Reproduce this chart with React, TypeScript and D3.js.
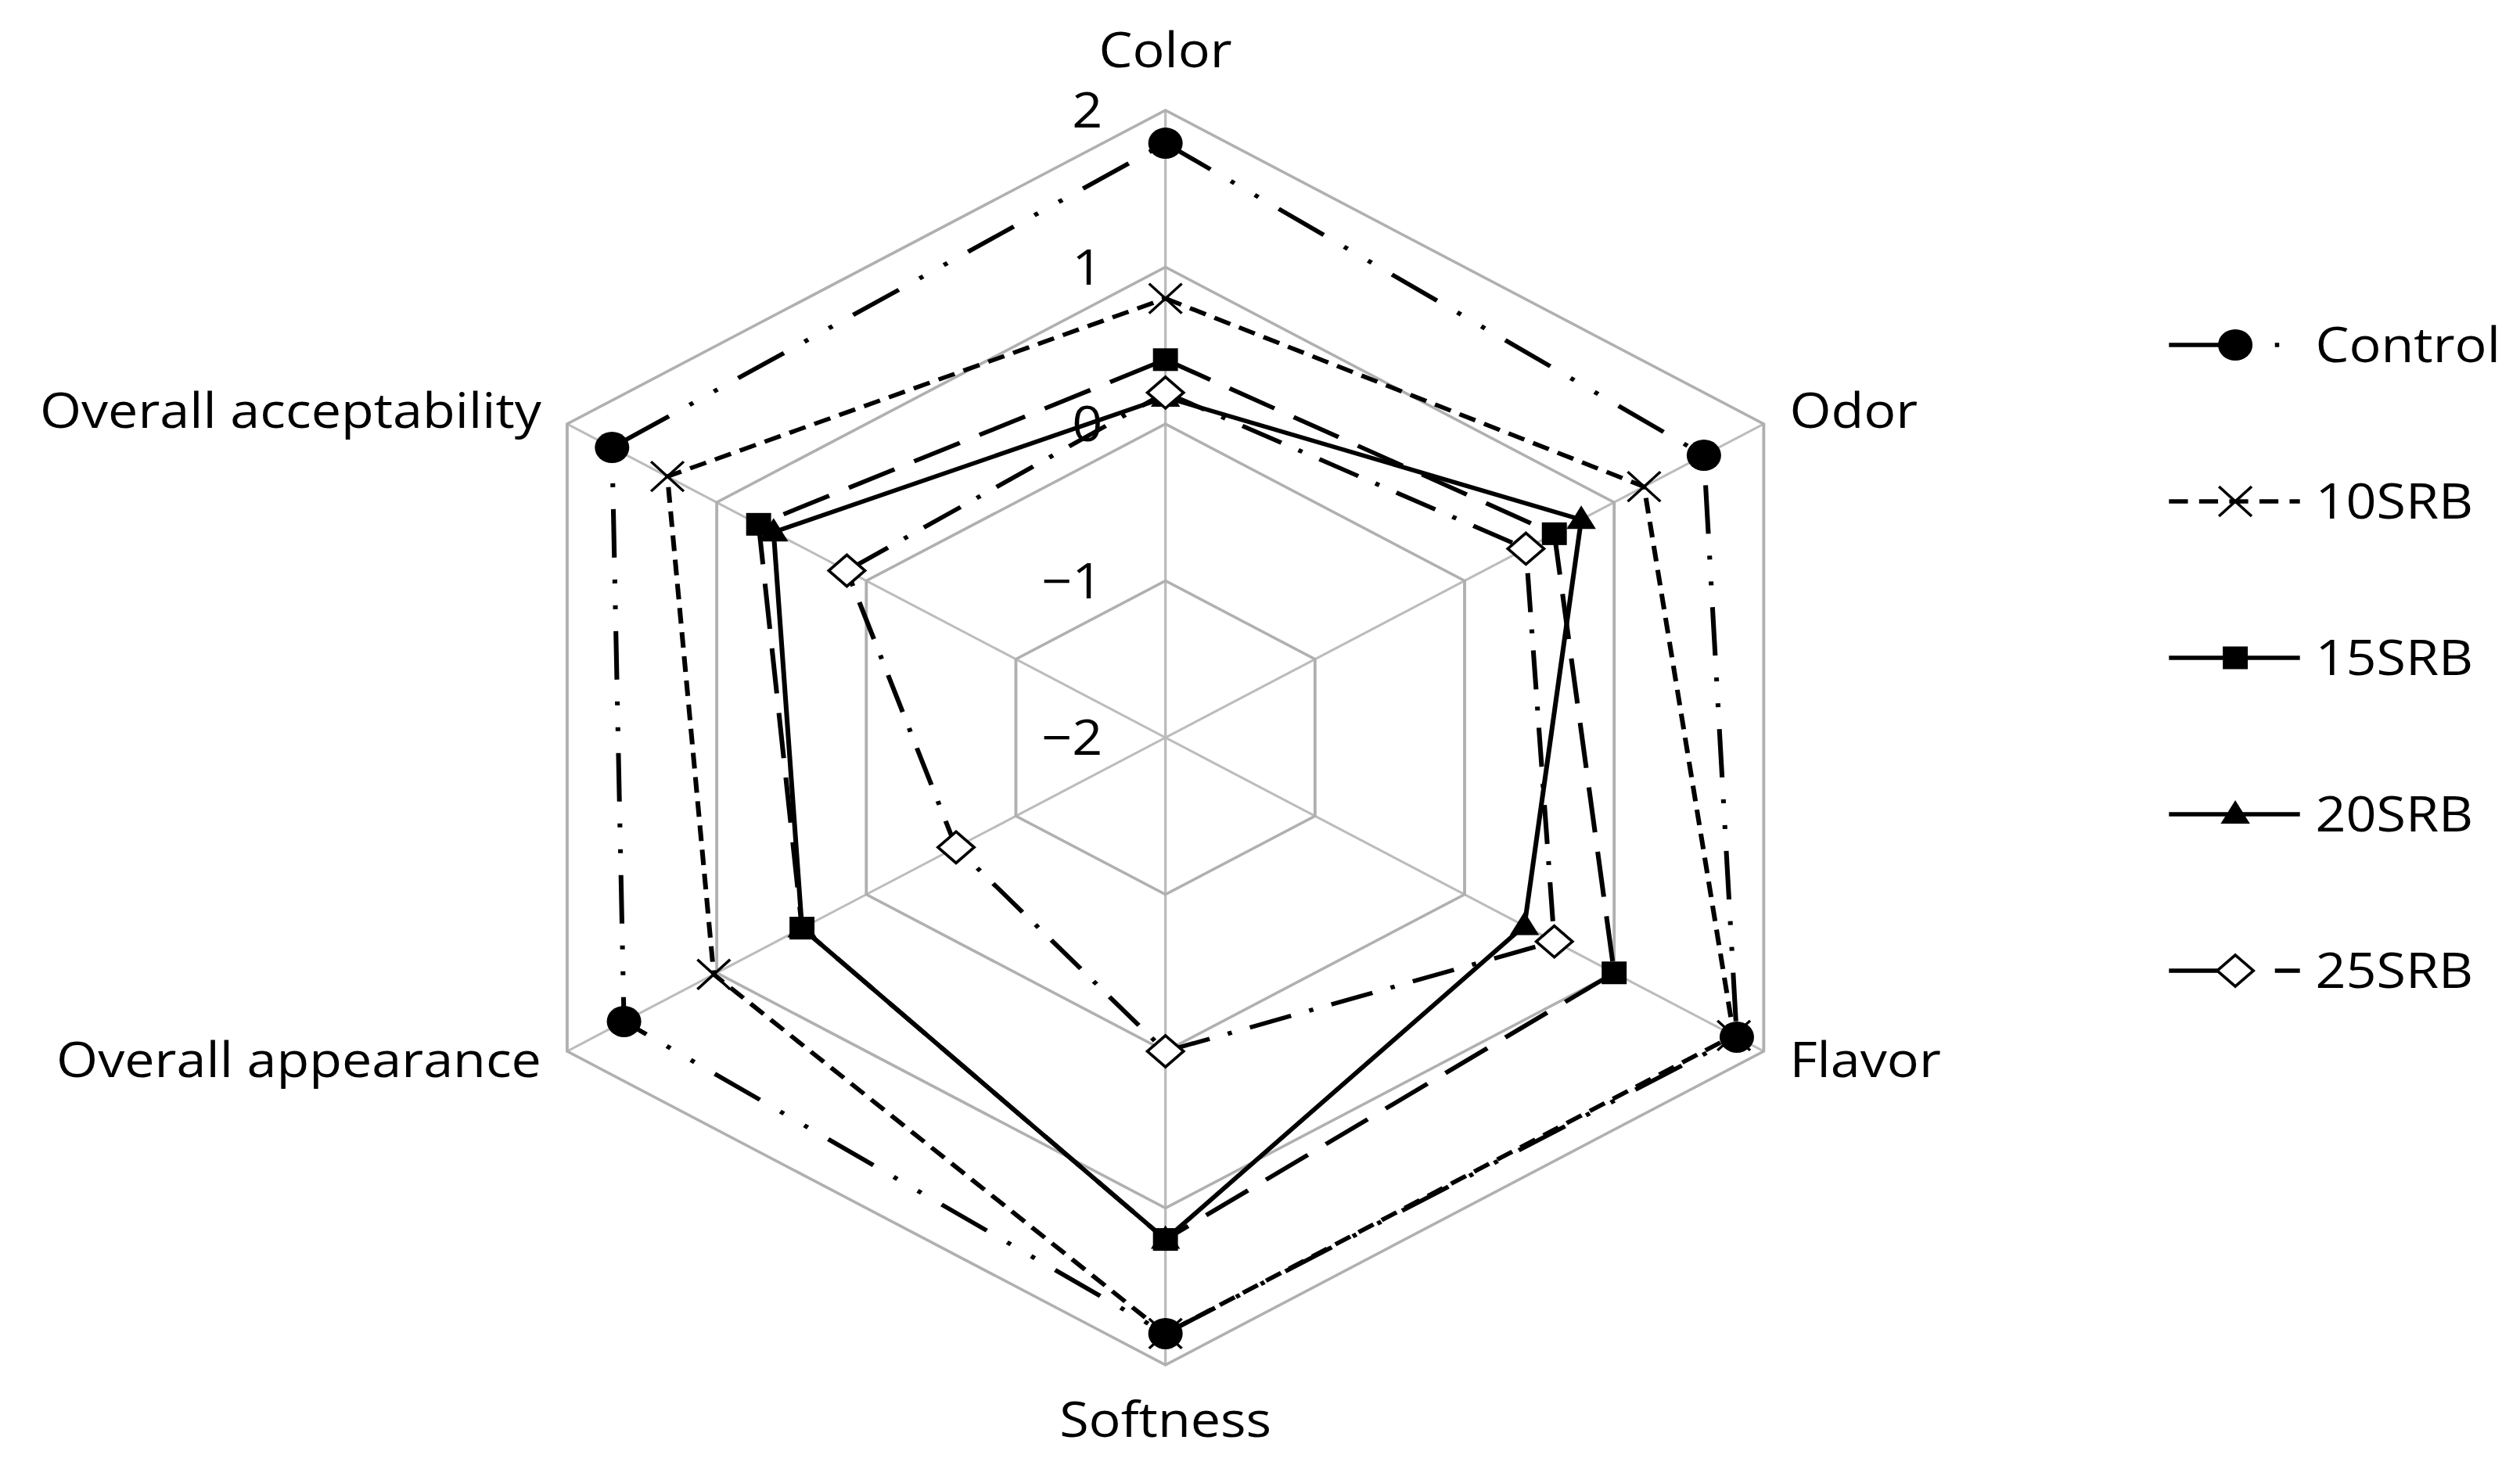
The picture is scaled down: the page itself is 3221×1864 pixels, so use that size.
import React from "react";
import * as d3 from "d3";

const categories = ["Color", "Odor", "Flavor", "Softness", "Overall appearance", "Overall acceptability"];
const seriesNames = ["Control", "10SRB", "15SRB", "20SRB", "25SRB"];
const control = [1.79, 1.6, 1.82, 1.8, 1.62, 1.7];
const srb10 = [0.8, 1.2, 1.8, 1.8, 1.02, 1.33];
const srb15 = [0.41, 0.6, 1.0, 1.2, 0.43, 0.72];
const srb20 = [0.17, 0.78, 0.4, 1.2, 0.43, 0.62];
const srb25 = [0.2, 0.41, 0.6, 0.0, -0.6, 0.13];
const tickValues = [-2, -1, 0, 1, 2];
const tickLabels = ["−2", "−1", "0", "1", "2"];

const seriesValues = [control, srb10, srb15, srb20, srb25];

type Style = { dash: string; legendDash: string; marker: string };
const styles: Style[] = [
  { dash: "62 28 5 28 5 28", legendDash: "77 46 5 100", marker: "circle" },
  { dash: "20 11", legendDash: "22 13", marker: "x" },
  { dash: "58 25", legendDash: "", marker: "square" },
  { dash: "", legendDash: "", marker: "triangle" },
  { dash: "50 22 5 22", legendDash: "59 64 40", marker: "diamond" },
];

const W = 3221;
const H = 1864;
const SX = 1.101;
const CX = 1353;
const CY = 943;
const R = 802;
const FONT = "'Open Sans', 'Noto Sans', sans-serif";
const FS = 62;

function Marker({ type, x, y }: { type: string; x: number; y: number }) {
  if (type === "circle") return <circle cx={x} cy={y} r={20} fill="#000" />;
  if (type === "x")
    return (
      <path
        d={`M${x - 19},${y - 19}L${x + 19},${y + 19}M${x - 19},${y + 19}L${x + 19},${y - 19}`}
        stroke="#000"
        strokeWidth={3.2}
        fill="none"
      />
    );
  if (type === "square") return <rect x={x - 14.5} y={y - 14.5} width={29} height={29} fill="#000" />;
  if (type === "triangle")
    return <path d={`M${x},${y - 18}L${x + 17},${y + 12}L${x - 17},${y + 12}Z`} fill="#000" />;
  return (
    <path
      d={`M${x},${y - 20}L${x + 21},${y}L${x},${y + 20}L${x - 21},${y}Z`}
      fill="#fff"
      stroke="#000"
      strokeWidth={3.5}
    />
  );
}

export default function App() {
  const n = categories.length;
  const r = d3.scaleLinear().domain([-2, 2]).range([0, R]);
  const ang = d3
    .scaleLinear()
    .domain([0, n])
    .range([0, 2 * Math.PI]);
  const px = (i: number, v: number) => r(v) * Math.sin(ang(i));
  const py = (i: number, v: number) => -r(v) * Math.cos(ang(i));

  const ringLine = (t: number) =>
    d3
      .lineRadial<number>()
      .angle((_, i) => ang(i))
      .radius(() => r(t))
      .curve(d3.curveLinearClosed)(d3.range(n)) as string;

  const seriesLine = d3
    .lineRadial<number>()
    .angle((_, i) => ang(i))
    .radius((d) => r(d))
    .curve(d3.curveLinearClosed);

  const legendX1 = 2518;
  const legendX2 = 2670;
  const legendMX = 2595;
  const legendTX = 2688;
  const legendY0 = 441;
  const legendStep = 200;

  return (
    <svg
      width={W}
      height={H}
      style={{ position: "absolute", left: 0, top: 0, background: "#fff" }}
      fontFamily={FONT}
    >
      <rect width={W} height={H} fill="#fff" />
      <g transform={`scale(${SX},1)`}>
        <g transform={`translate(${CX},${CY})`}>
          {/* spokes */}
          {d3.range(n).map((i) => (
            <line
              key={"s" + i}
              x1={0}
              y1={0}
              x2={px(i, 2)}
              y2={py(i, 2)}
              stroke="#bcbcbc"
              strokeWidth={3}
            />
          ))}
          {/* rings */}
          {tickValues
            .filter((t) => t > -2)
            .map((t) => (
              <path key={"r" + t} d={ringLine(t)} fill="none" stroke="#b0b0b0" strokeWidth={3.5} />
            ))}
          {/* tick labels */}
          {tickValues.map((t, k) => (
            <text
              key={"t" + t}
              x={-73}
              y={-r(t) + 22}
              textAnchor="end"
              fontSize={FS}
              fill="#000"
            >
              {tickLabels[k]}
            </text>
          ))}
          {/* axis labels */}
          {categories.map((c, i) => {
            const vx = px(i, 2);
            const vy = py(i, 2);
            let x = vx;
            let y = vy;
            let anchor = "middle";
            if (i === 0) y = vy - 55;
            else if (i === 3) y = vy + 92;
            else {
              const right = vx > 0;
              anchor = right ? "start" : "end";
              x = vx + (right ? 30 : -30);
              y = vy + (vy < 0 ? 5 : 33);
            }
            return (
              <text key={c} x={x} y={y} textAnchor={anchor} fontSize={FS} fill="#000">
                {c}
              </text>
            );
          })}
          {/* series */}
          {seriesValues.map((vals, s) => (
            <g key={seriesNames[s]}>
              <path
                d={seriesLine(vals) as string}
                fill="none"
                stroke="#000"
                strokeWidth={5.5}
                strokeDasharray={styles[s].dash || undefined}
                strokeLinejoin="round"
              />
              {vals.map((v, i) => (
                <Marker key={i} type={styles[s].marker} x={px(i, v)} y={py(i, v)} />
              ))}
            </g>
          ))}
        </g>
        {/* legend */}
        {seriesNames.map((name, s) => {
          const y = legendY0 + s * legendStep;
          return (
            <g key={"l" + name}>
              <line
                x1={legendX1}
                x2={legendX2}
                y1={y}
                y2={y}
                stroke="#000"
                strokeWidth={5.5}
                strokeDasharray={styles[s].legendDash || undefined}
              />
              <Marker type={styles[s].marker} x={legendMX} y={y} />
              <text x={legendTX} y={y + 22} fontSize={FS} fill="#000">
                {name}
              </text>
            </g>
          );
        })}
      </g>
    </svg>
  );
}
